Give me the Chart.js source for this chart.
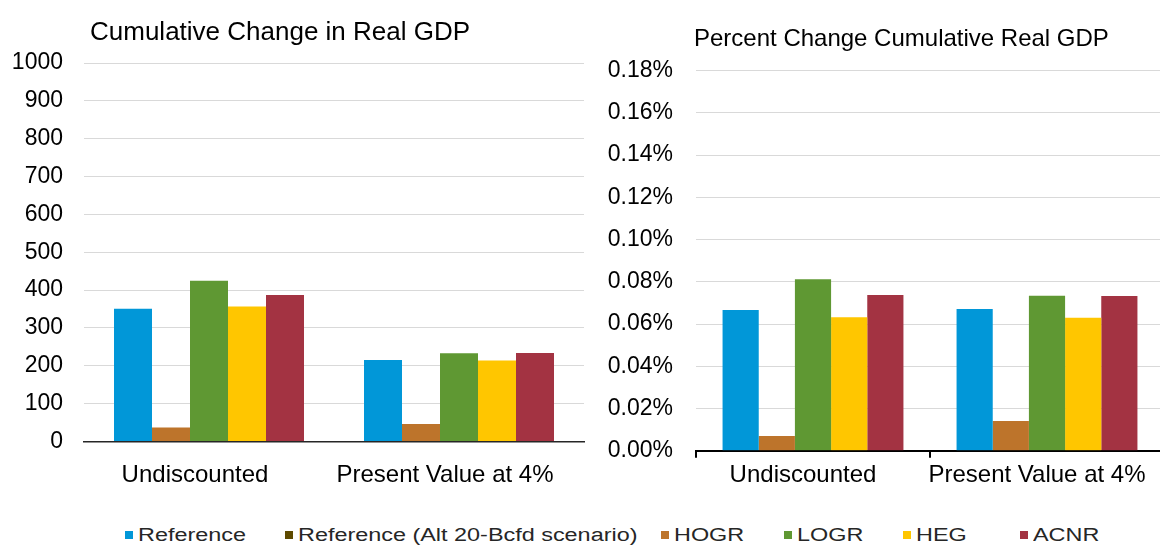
<!DOCTYPE html>
<html>
<head>
<meta charset="utf-8">
<script src="https://cdn.jsdelivr.net/npm/chart.js@4/dist/chart.umd.min.js"></script>
<style>
  html, body { margin: 0; padding: 0; background: #fff; overflow: hidden; }
  #wrap { position: relative; width: 1160px; height: 545px; }
  #gdpChart { position: absolute; left: 0; top: 0; }
  #pctChart { position: absolute; left: 590px; top: 0; }
  #legend { position: absolute; left: 0; top: 524px; width: 1160px; height: 22px;
            font-family: 'Liberation Sans', Arial, sans-serif; font-size: 18px; color: #262626; }
  .item { position: absolute; top: 0; white-space: nowrap; }
  .swatch { position: absolute; left: 0; top: 7px; width: 8px; height: 8px; }
  .label { position: absolute; left: 13px; top: 0; line-height: 22px;
           transform: scaleX(1.3); transform-origin: 0 50%; }
</style>
</head>
<body>
<div id="wrap">
  <canvas id="gdpChart" width="590" height="500"></canvas>
  <canvas id="pctChart" width="580" height="500"></canvas>
  <div id="legend"></div>
</div>
<script>
// categories and series
const categories = ["Undiscounted", "Present Value at 4%"];
const seriesNames = ["Reference", "Reference (Alt 20-Bcfd scenario)", "HOGR", "LOGR", "HEG", "ACNR"];
const seriesColors = ["#0197d8", "#5e4a00", "#bd742b", "#5f9833", "#ffc600", "#a33342"];

// Cumulative change in real GDP (billions)
const gdpReference = [351, 215];
const gdpAltReference = [null, null]; // shown in legend only, no bars
const gdpHOGR = [37, 46];
const gdpLOGR = [425, 233];
const gdpHEG = [357, 214];
const gdpACNR = [387, 234];

// Percent change cumulative real GDP (%)
const pctReference = [0.0666, 0.0671];
const pctAltReference = [null, null];
const pctHOGR = [0.0070, 0.0141];
const pctLOGR = [0.0812, 0.0734];
const pctHEG = [0.0632, 0.0630];
const pctACNR = [0.0738, 0.0733];

// axis ranges
const gdpAxis = { min: 0, max: 1000, step: 100 };
const pctAxis = { min: 0, max: 0.18, step: 0.02 };

Chart.defaults.font.family = "'Liberation Sans', Arial, sans-serif";
Chart.defaults.color = "#000";

function buildDatasets(seriesValues) {
  // skip series that have no bars (keeps the group tight, like the original)
  const sets = [];
  seriesValues.forEach((vals, i) => {
    if (vals.every((v) => v === null)) return;
    sets.push({
      label: seriesNames[i],
      data: vals,
      backgroundColor: seriesColors[i],
      borderWidth: 0,
    });
  });
  return sets;
}

// draws the panel title at a fixed offset from the plot area
const panelTitle = {
  id: "panelTitle",
  afterDraw(chart, args, opts) {
    const ctx = chart.ctx;
    ctx.save();
    ctx.font = opts.size + "px 'Liberation Sans', Arial, sans-serif";
    ctx.fillStyle = "#000";
    ctx.textBaseline = "alphabetic";
    ctx.fillText(opts.text, chart.chartArea.left + opts.dx, opts.y);
    ctx.restore();
  },
};

function makeChart(canvasId, seriesValues, axis, cfg) {
  const ctx = document.getElementById(canvasId).getContext("2d");
  return new Chart(ctx, {
    type: "bar",
    data: { labels: categories, datasets: buildDatasets(seriesValues) },
    plugins: [panelTitle],
    options: {
      responsive: false,
      animation: false,
      devicePixelRatio: 1,
      layout: { padding: { top: cfg.top, right: cfg.right, left: 0, bottom: 0 } },
      datasets: { bar: { barPercentage: 1, categoryPercentage: cfg.catPct } },
      plugins: {
        legend: { display: false },
        tooltip: { enabled: false },
        panelTitle: cfg.title,
      },
      scales: {
        x: {
          grid: {
            display: cfg.xTicks,
            offset: true,
            drawOnChartArea: false,
            drawTicks: cfg.xTicks,
            tickLength: 7,
            color: "#000",
            lineWidth: 2,
          },
          border: { display: true, color: cfg.axisColor, width: cfg.axisWidth },
          ticks: {
            font: { size: 24 },
            padding: cfg.xPad,
            labelOffset: cfg.xShift,
            color: "#000",
            maxRotation: 0,
          },
          afterFit: (scale) => { scale.height = cfg.xHeight; },
        },
        y: {
          min: axis.min,
          max: axis.max,
          grid: { color: "#d9d9d9", lineWidth: 1, drawTicks: false },
          border: { display: false },
          ticks: {
            stepSize: axis.step,
            font: { size: 23 },
            padding: cfg.yPad,
            color: "#000",
            callback: cfg.fmt,
          },
          afterFit: (scale) => { scale.width = cfg.yWidth; },
        },
      },
    },
  });
}

makeChart(
  "gdpChart",
  [gdpReference, gdpAltReference, gdpHOGR, gdpLOGR, gdpHEG, gdpACNR],
  gdpAxis,
  {
    top: 63, right: 6, catPct: 0.76,
    xTicks: false, xPad: 19, xHeight: 58.5, xShift: -14,
    axisColor: "#262626", axisWidth: 1.5,
    yWidth: 84, yPad: 21,
    fmt: (v) => String(Math.round(v)),
    title: { text: "Cumulative Change in Real GDP", size: 26, dx: 6, y: 40 },
  }
);

makeChart(
  "pctChart",
  [pctReference, pctAltReference, pctHOGR, pctLOGR, pctHEG, pctACNR],
  pctAxis,
  {
    top: 70.7, right: 6, catPct: 0.773,
    xTicks: true, xPad: 3, xHeight: 49.3, xShift: -10,
    axisColor: "#000", axisWidth: 2,
    yWidth: 106, yPad: 23,
    fmt: (v) => v.toFixed(2) + "%",
    title: { text: "Percent Change Cumulative Real GDP", size: 24, dx: -2, y: 46 },
  }
);

// shared legend under both panels
const legendX = [125, 285, 661, 784, 903, 1020];
const legendEl = document.getElementById("legend");
seriesNames.forEach((name, i) => {
  const item = document.createElement("div");
  item.className = "item";
  item.style.left = legendX[i] + "px";
  const sw = document.createElement("span");
  sw.className = "swatch";
  sw.style.background = seriesColors[i];
  const lb = document.createElement("span");
  lb.className = "label";
  lb.textContent = name;
  item.appendChild(sw);
  item.appendChild(lb);
  legendEl.appendChild(item);
});
</script>
</body>
</html>
